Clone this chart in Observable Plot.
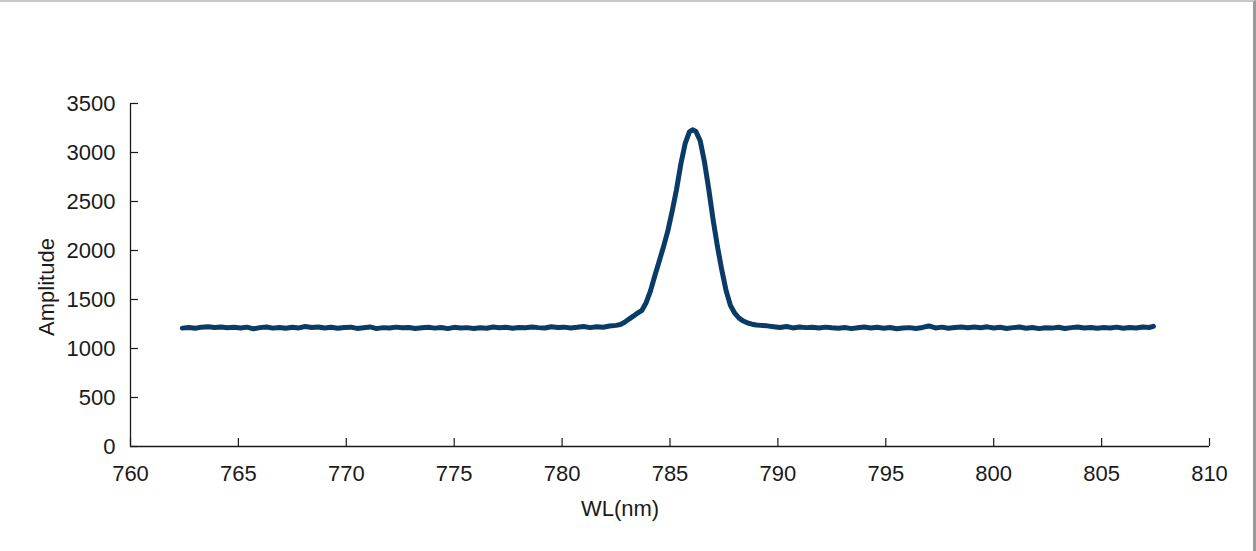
<!DOCTYPE html>
<html>
<head>
<meta charset="utf-8">
<script src="https://cdn.jsdelivr.net/npm/d3@7"></script>
<script src="https://cdn.jsdelivr.net/npm/@observablehq/plot@0.6"></script>
<style>
  html, body { margin: 0; padding: 0; background: #fff; }
  #wrap { position: relative; width: 1256px; height: 551px; overflow: hidden; }
  #border { position: absolute; left: 0; top: 0; width: 1256px; height: 551px; box-sizing: border-box;
            border-top: 2px solid #c8c8c8; border-right: 3px solid #9a9a9a; pointer-events: none; }
</style>
</head>
<body>
<div id="wrap"><div id="border"></div></div>
<script>
const wavelength = [
  762.4, 762.7, 763.0, 763.3, 763.6, 763.9, 764.2, 764.5, 764.8, 765.1, 765.4, 765.7, 766.0, 766.3, 766.6, 766.9,
  767.2, 767.5, 767.8, 768.1, 768.4, 768.7, 769.0, 769.3, 769.6, 769.9, 770.2, 770.5, 770.8, 771.1, 771.4, 771.7,
  772.0, 772.3, 772.6, 772.9, 773.2, 773.5, 773.8, 774.1, 774.4, 774.7, 775.0, 775.3, 775.6, 775.9, 776.2, 776.5,
  776.8, 777.1, 777.4, 777.7, 778.0, 778.3, 778.6, 778.9, 779.2, 779.5, 779.8, 780.1, 780.4, 780.7, 781.0, 781.3,
  781.6, 781.9, 782.2, 782.5,
  782.7, 782.9, 783.1, 783.3, 783.5, 783.7, 783.9, 784.1, 784.3, 784.5, 784.7, 784.9, 785.1, 785.3, 785.5, 785.7,
  785.9, 786.05, 786.2, 786.4, 786.6, 786.8, 787.0, 787.2, 787.4, 787.6, 787.8, 788.0, 788.2, 788.4, 788.6, 788.8,
  789.0, 789.2, 789.5,
  789.8, 790.1, 790.4, 790.7, 791.0, 791.3, 791.6, 791.9, 792.2, 792.5, 792.8, 793.1, 793.4, 793.7, 794.0, 794.3,
  794.6, 794.9, 795.2, 795.5, 795.8, 796.1, 796.4, 796.7, 797.0, 797.3, 797.6, 797.9, 798.2, 798.5, 798.8, 799.1,
  799.4, 799.7, 800.0, 800.3, 800.6, 800.9, 801.2, 801.5, 801.8, 802.1, 802.4, 802.7, 803.0, 803.3, 803.6, 803.9,
  804.2, 804.5, 804.8, 805.1, 805.4, 805.7, 806.0, 806.3, 806.6, 806.9, 807.2, 807.4
];
const amplitude = [
  1208, 1214, 1206, 1218, 1221, 1215, 1219, 1212, 1216, 1210, 1218, 1201, 1213, 1219, 1208, 1215,
  1206, 1217, 1210, 1224, 1214, 1220, 1209, 1216, 1207, 1214, 1218, 1205, 1212, 1220, 1203, 1213,
  1209, 1218, 1211, 1215, 1204, 1212, 1217, 1208, 1214, 1203, 1216, 1209, 1213, 1204, 1211, 1207,
  1219, 1212, 1217, 1206, 1215, 1211, 1219, 1213, 1209, 1222, 1214, 1218, 1210, 1216, 1224, 1213,
  1221, 1217, 1229, 1236,
  1245, 1268, 1300, 1330, 1362, 1390, 1470, 1590, 1745, 1890, 2040, 2200, 2400, 2620, 2880, 3090,
  3210, 3232, 3215, 3120, 2900, 2620, 2310, 2040, 1800, 1590, 1440, 1360, 1310, 1280, 1260, 1248,
  1240, 1236, 1231,
  1222, 1214, 1225, 1210, 1219, 1213, 1216, 1209, 1218, 1211, 1207, 1214, 1203, 1212, 1219, 1210,
  1216, 1206, 1214, 1201, 1209, 1213, 1205, 1215, 1230, 1210, 1218, 1207, 1214, 1220, 1211, 1219,
  1212, 1221, 1209, 1216, 1205, 1213, 1219, 1206, 1214, 1203, 1212, 1208, 1217, 1204, 1213, 1219,
  1209, 1215, 1206, 1214, 1210, 1218, 1207, 1215, 1209, 1219, 1214, 1226
];
const xTicks = [760, 765, 770, 775, 780, 785, 790, 795, 800, 805, 810];
const yTicks = [0, 500, 1000, 1500, 2000, 2500, 3000, 3500];
const xLabel = "WL(nm)";
const yLabel = "Amplitude";

const data = wavelength.map((w, i) => ({wl: w, amp: amplitude[i]}));

const W = 1256, H = 551;
const mL = 130, mR = 47, mT = 103, mB = 105;
const frameW = W - mL - mR, frameH = H - mT - mB;
const font = "'Liberation Sans', Arial, Helvetica, sans-serif";
const fs = 22;

const chart = Plot.plot({
  width: W,
  height: H,
  marginLeft: mL,
  marginRight: mR,
  marginTop: mT,
  marginBottom: mB,
  style: {fontFamily: font, fontSize: fs + "px", color: "#1a1a1a", background: "transparent", overflow: "visible"},
  x: {domain: [760, 810]},
  y: {domain: [0, 3500]},
  marks: [
    Plot.axisX({ticks: xTicks, tickSize: 0, tickPadding: 19, fontSize: fs, label: null, tickFormat: d => String(d)}),
    Plot.axisY({ticks: yTicks, tickSize: 0, tickPadding: 15, fontSize: fs, label: null, tickFormat: d => String(d)}),
    Plot.tickX(xTicks, {x: d => d, stroke: "#1a1a1a", strokeWidth: 1.2, insetTop: frameH - 8}),
    Plot.tickY(yTicks, {y: d => d, stroke: "#1a1a1a", strokeWidth: 1.2, insetRight: frameW - 8}),
    Plot.ruleX([760], {stroke: "#1a1a1a", strokeWidth: 1.3}),
    Plot.ruleY([0], {stroke: "#1a1a1a", strokeWidth: 1.3}),
    Plot.line(data, {x: "wl", y: "amp", stroke: "#0a3a68", strokeWidth: 5, strokeLinejoin: "round", strokeLinecap: "round"}),
    Plot.text([xLabel], {frameAnchor: "bottom", textAnchor: "middle", lineAnchor: "middle", dx: -50, dy: 62, fontSize: fs, fill: "#1a1a1a"}),
    Plot.text([yLabel], {frameAnchor: "left", textAnchor: "middle", lineAnchor: "middle", dx: -84, dy: 12, rotate: -90, fontSize: fs, fill: "#1a1a1a"})
  ]
});
document.getElementById("wrap").insertBefore(chart, document.getElementById("border"));
</script>
</body>
</html>
